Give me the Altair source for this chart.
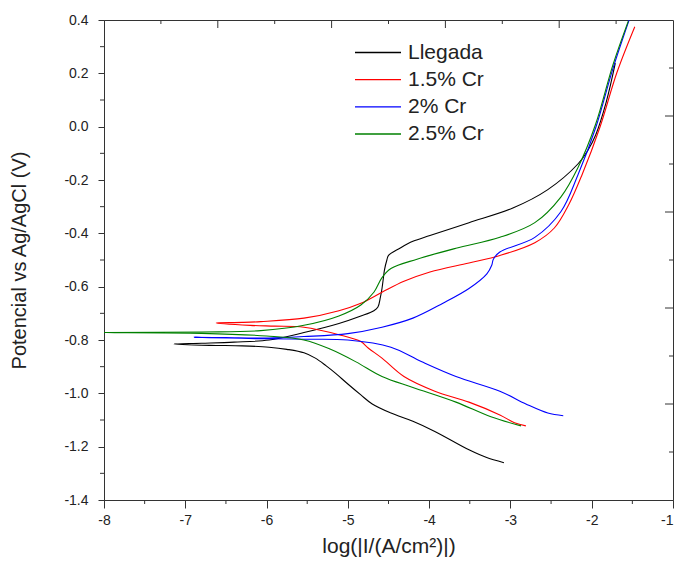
import altair as alt
import pandas as pd

series_names = ["Llegada", "1.5% Cr", "2% Cr", "2.5% Cr"]
series_colors = ["#000000", "#ff0000", "#0000ff", "#008000"]

# Llegada: cathodic branch (from end back to Ecorr) then anodic branch
llegada_x = [-3.08, -3.30, -3.51, -3.93, -4.20, -4.47, -4.70, -4.84, -5.00, -5.15, -5.27, -5.40, -5.54, -5.75, -5.97, -6.30, -6.70, -7.14,
             -6.80, -6.40, -5.97, -5.54, -5.11, -4.84, -4.68, -4.63, -4.60, -4.58, -4.56, -4.55, -4.52, -4.50, -4.36, -4.20, -3.99, -3.51, -2.97, -2.54, -2.17, -2.05, -1.95, -1.82, -1.71]
llegada_y = [-1.260, -1.240, -1.212, -1.143, -1.105, -1.074, -1.040, -1.006, -0.965, -0.925, -0.896, -0.868, -0.848, -0.835, -0.827, -0.822, -0.820, -0.815,
             -0.812, -0.808, -0.800, -0.772, -0.738, -0.710, -0.690, -0.676, -0.640, -0.607, -0.560, -0.538, -0.500, -0.483, -0.456, -0.430, -0.408, -0.360, -0.305, -0.236, -0.140, -0.090, -0.030, 0.094, 0.238]

cr15_x = [-2.81, -2.95, -3.13, -3.51, -3.93, -4.31, -4.58, -4.75, -4.84, -5.11, -5.54, -5.90, -6.20, -6.62,
          -6.30, -6.07, -5.54, -5.11, -4.84, -4.58, -4.31, -3.99, -3.51, -3.13, -2.70, -2.46, -2.28, -2.12, -1.90, -1.69, -1.47]
cr15_y = [-1.122, -1.110, -1.081, -1.033, -0.992, -0.937, -0.868, -0.830, -0.806, -0.780, -0.752, -0.748, -0.745, -0.736,
          -0.734, -0.731, -0.718, -0.690, -0.662, -0.621, -0.580, -0.545, -0.511, -0.483, -0.435, -0.380, -0.291, -0.181, -0.003, 0.203, 0.375]

cr2_x = [-2.35, -2.54, -2.81, -3.13, -3.67, -4.09, -4.47, -5.00, -5.54, -6.10, -6.89,
         -6.50, -6.07, -5.54, -5.00, -4.58, -4.20, -3.83, -3.51, -3.29, -3.23, -3.21, -3.13, -2.70, -2.38, -2.17, -1.95, -1.74, -1.54]
cr2_y = [-1.084, -1.074, -1.040, -0.992, -0.937, -0.882, -0.827, -0.800, -0.797, -0.795, -0.790,
         -0.791, -0.793, -0.787, -0.776, -0.752, -0.718, -0.662, -0.607, -0.552, -0.520, -0.497, -0.470, -0.415, -0.319, -0.181, -0.003, 0.217, 0.400]

cr25_x = [-2.87, -3.24, -3.67, -4.20, -4.58, -4.90, -5.22, -5.54, -6.00, -6.80, -8.00,
          -6.80, -6.07, -5.54, -5.11, -4.84, -4.68, -4.58, -4.47, -4.15, -3.67, -3.13, -2.70, -2.38, -2.17, -1.95, -1.74, -1.55]
cr25_y = [-1.122, -1.088, -1.033, -0.978, -0.937, -0.882, -0.834, -0.800, -0.785, -0.775, -0.772,
          -0.770, -0.765, -0.745, -0.710, -0.669, -0.621, -0.566, -0.532, -0.497, -0.456, -0.415, -0.360, -0.264, -0.154, 0.011, 0.231, 0.396]

x_ticks = [-8, -7, -6, -5, -4, -3, -2, -1]
x_minor = [-7.5, -6.5, -5.5, -4.5, -3.5, -2.5, -1.5]
y_ticks = [0.4, 0.2, 0.0, -0.2, -0.4, -0.6, -0.8, -1.0, -1.2, -1.4]
y_minor = [0.3, 0.1, -0.1, -0.3, -0.5, -0.7, -0.9, -1.1, -1.3]
top_major = [-6.6, -5.2, -3.8, -2.4]
top_minor = [-7.3, -5.9, -4.5, -3.1, -1.7]
right_major = [0.04, -0.32, -0.68, -1.04]
right_minor = [0.22, -0.14, -0.50, -0.86, -1.22]

rows = []
for name, xs, ys in [("Llegada", llegada_x, llegada_y), ("1.5% Cr", cr15_x, cr15_y),
                     ("2% Cr", cr2_x, cr2_y), ("2.5% Cr", cr25_x, cr25_y)]:
    for i, (a, b) in enumerate(zip(xs, ys)):
        rows.append({"serie": name, "i": i, "x": a, "y": b})
df = pd.DataFrame(rows)

W, H = 569, 480
TC = "#333333"
fix_minus = "replace(datum.label, '\u2212', '-')"
xs_scale = alt.Scale(domain=[-8, -1], nice=False, zero=False)
ys_scale = alt.Scale(domain=[-1.4, 0.4], nice=False, zero=False)
color_scale = alt.Scale(domain=series_names, range=series_colors)

x_axis = alt.Axis(values=x_ticks, format="d", labelExpr=fix_minus, labelFlush=False,
                  labelAlign={"condition": {"test": "datum.value == -1", "value": "right"}, "value": "center"},
                  tickSize=8, tickColor=TC, domainColor=TC,
                  labelFontSize=14, labelColor="#222", labelPadding=5,
                  title="log(|I/(A/cm²)|)", titleFontSize=21, titleFontWeight="normal",
                  titleColor="#222", titlePadding=8, grid=False)
y_axis = alt.Axis(values=y_ticks, format=".1f", labelExpr=fix_minus, labelFlush=False,
                  tickSize=6, tickColor=TC, domainColor=TC,
                  labelFontSize=14, labelColor="#222", labelPadding=10,
                  title="Potencial vs Ag/AgCl (V)", titleFontSize=20, titleFontWeight="normal",
                  titleColor="#222", titlePadding=34, grid=False)

lines = alt.Chart(df).mark_line(strokeWidth=1.1, clip=True, interpolate="catmull-rom").encode(
    x=alt.X("x:Q", scale=xs_scale, axis=x_axis),
    y=alt.Y("y:Q", scale=ys_scale, axis=y_axis),
    color=alt.Color("serie:N", scale=color_scale, legend=None),
    order=alt.Order("i:Q"),
)

def tick_layer(vals, chan, a, b):
    d = pd.DataFrame({"v": vals})
    base = alt.Chart(d).mark_rule(color=TC, strokeWidth=1)
    if chan == "x":
        return base.encode(x=alt.X("v:Q", scale=xs_scale, axis=x_axis), y=alt.value(a), y2=alt.value(b))
    return base.encode(y=alt.Y("v:Q", scale=ys_scale, axis=y_axis), x=alt.value(a), x2=alt.value(b))

plot = alt.layer(
    lines,
    tick_layer(x_minor, "x", H, H + 4),
    tick_layer(y_minor, "y", 0, -4),
    tick_layer(top_major, "x", 0, 8),
    tick_layer(top_minor, "x", 0, 4),
    tick_layer(right_major, "y", W, W - 8),
    tick_layer(right_minor, "y", W, W - 4),
)

# legend drawn as its own layer: series names placed by a point scale
leg_df = pd.DataFrame({"serie": series_names})
leg_y = alt.Y("serie:N", scale=alt.Scale(type="point", domain=series_names, range=[32.5, 114], padding=0), axis=None)
leg_lines = alt.Chart(leg_df).mark_rule(strokeWidth=1.3).encode(
    y=leg_y, x=alt.value(251), x2=alt.value(297),
    color=alt.Color("serie:N", scale=color_scale, legend=None),
)
leg_text = alt.Chart(leg_df).mark_text(align="left", baseline="middle", fontSize=21, color="#222").encode(
    y=leg_y, x=alt.value(304), text="serie:N",
)
legend = alt.layer(leg_lines, leg_text)

chart = alt.layer(plot, legend).resolve_scale(y="independent").properties(
    width=W, height=H,
    autosize=alt.AutoSizeParams(type="none"),
    padding={"left": 96, "top": 12, "right": 2, "bottom": 60},
).configure(font="Liberation Sans").configure_view(stroke=TC, strokeWidth=1)

chart.save("out.html", embed_options={"renderer": "svg", "actions": False})
